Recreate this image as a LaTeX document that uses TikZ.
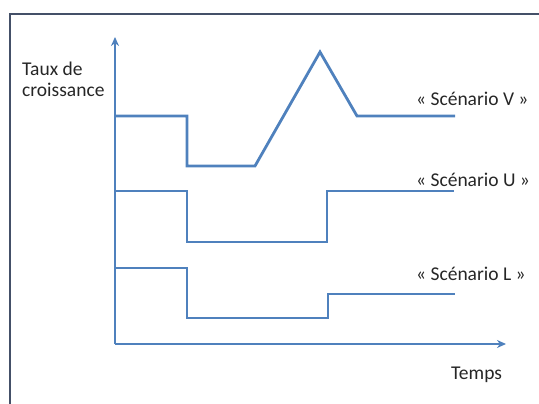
\documentclass[tikz,border=0pt]{standalone}
\usepackage{fontspec}
\setmainfont{Carlito}
\usetikzlibrary{arrows.meta,positioning}
\newcommand{\mylw}{2.8pt}
\tikzset{
    framesty/.style={draw=framegray,line width=1.6pt},
    axissty/.style={draw=curveblue,line width=\mylw,-{Stealth[length=9pt,width=8pt]}},
    curvesty/.style={draw=curveblue,line width=\mylw,line join=miter},
    labelsty/.style={font=\fontsize{19.5}{22}\selectfont,text=black!85,inner sep=0pt},
}
\definecolor{curveblue}{RGB}{79,129,189}
\definecolor{framegray}{RGB}{68,80,104}

\begin{document}
\begin{tikzpicture}[x=1pt,y=-1pt]
\useasboundingbox (0,0) rectangle (539,404);
% cadre
\draw[framesty] (10,404) -- (10,14) -- (539,14);

% axes
\coordinate (orig) at (115,344);
\coordinate (ytop) at (115,37);
\coordinate (xend) at (506,344);
\draw[axissty] (orig) -- (ytop);
\draw[axissty] (orig) -- (xend);

% scenarios
\draw[curvesty] (115,116) -- (187,116) -- (187,166) -- (255,166) -- (320,52) -- (357,116) -- (455,116);
\draw[curvesty] (115,191) -- (187,191) -- (187,242) -- (327,242) -- (327,191) -- (454,191);
\draw[curvesty] (115,268) -- (187,268) -- (187,318) -- (328,318) -- (328,294) -- (455,294);

% textes
\node[labelsty,anchor=base west] (ylab1) at (22,76) {Taux de};
\node[labelsty,anchor=base west] (ylab2) at (22,97) {croissance};
\node[labelsty,anchor=base west] (scenv) at (416,106) {« Scénario V »};
\node[labelsty,anchor=base west] (scenu) at (416,186) {« Scénario U »};
\node[labelsty,anchor=base west] (scenl) at (416,280) {« Scénario L »};
\node[labelsty,anchor=base west] (xlab) at (451,379) {Temps};
\end{tikzpicture}
\end{document}
